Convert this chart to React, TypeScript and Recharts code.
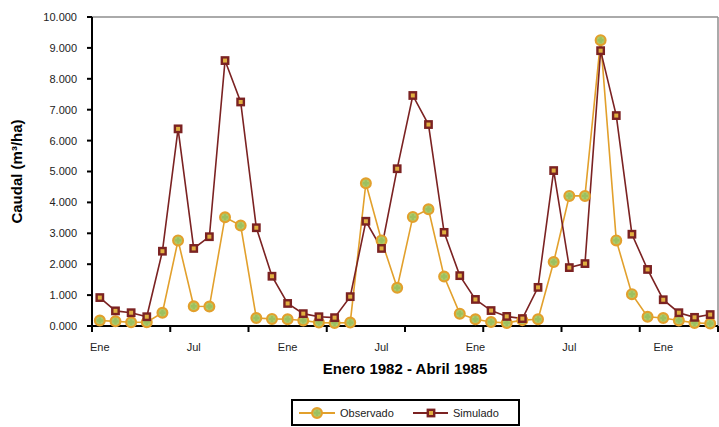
import React from "react";
import {
  LineChart,
  Line,
  XAxis,
  YAxis,
  ReferenceLine,
} from "recharts";

// Enero 1982 - Abril 1985, one value per month (m3/ha)
const MONTHS = ["Ene", "Feb", "Mar", "Abr", "May", "Jun", "Jul", "Ago", "Sep", "Oct", "Nov", "Dic"];

const OBSERVADO = [
  180, 150, 120, 120, 430, 2770, 640, 630, 3520, 3250, 260, 230,
  220, 180, 110, 100, 110, 4620, 2770, 1240, 3530, 3780, 1600, 400,
  220, 130, 100, 190, 220, 2070, 4210, 4210, 9250, 2770, 1030, 300,
  260, 180, 100, 80,
];

const SIMULADO = [
  920, 490, 430, 300, 2420, 6380, 2510, 2890, 8590, 7250, 3180, 1610,
  730, 400, 300, 270, 950, 3390, 2510, 5090, 7460, 6520, 3030, 1630,
  860, 500, 310, 240, 1250, 5030, 1890, 2020, 8910, 6810, 2970, 1830,
  850, 430, 280, 370,
];

const Y_TICKS = [0, 1000, 2000, 3000, 4000, 5000, 6000, 7000, 8000, 9000, 10000];
const MARK_EVERY = 5; // tick marks between categories
const LABEL_EVERY = 6; // month labels

const SERIES = [
  { key: "obs", name: "Observado", color: "#E2A02C" },
  { key: "sim", name: "Simulado", color: "#7B2222" },
];

const FONT = '"Liberation Sans", Arial, Helvetica, sans-serif';

const data = OBSERVADO.map((v, i) => ({
  x: i + 0.5,
  month: MONTHS[i % 12],
  obs: v,
  sim: SIMULADO[i],
}));

const xTicks: number[] = [];
for (let i = 0; i <= data.length; i += MARK_EVERY) xTicks.push(i);
for (let i = 0; i < data.length; i += LABEL_EVERY) xTicks.push(i + 0.5);
xTicks.sort((a, b) => a - b);

const fmtY = (v: number) =>
  `${Math.floor(v / 1000)}.${String(v % 1000).padStart(3, "0")}`;

function XTick(props: any) {
  const { x, y, payload } = props;
  const v = payload.value as number;
  if (Number.isInteger(v)) {
    return <line x1={x} x2={x} y1={y} y2={y + 6} stroke="#000" strokeWidth={2} />;
  }
  return (
    <text x={x} y={y + 25} textAnchor="middle" fontSize={11} fill="#222" fontFamily={FONT}>
      {MONTHS[Math.floor(v) % 12]}
    </text>
  );
}

function ObsDot(props: any) {
  const { cx, cy, index } = props;
  if (cx == null || cy == null) return <g key={`o${index}`} />;
  return (
    <g key={`o${index}`}>
      <circle cx={cx} cy={cy} r={4.9} fill="#AFCB6A" stroke="#E2A02C" strokeWidth={2.2} />
      <path
        d={`M${cx - 1.2},${cy - 3}h2.4v1.8h1.8v2.4h-1.8v1.8h-2.4v-1.8h-1.8v-2.4h1.8z`}
        fill="#9CC060"
      />
    </g>
  );
}

function SimDot(props: any) {
  const { cx, cy, index } = props;
  if (cx == null || cy == null) return <g key={`s${index}`} />;
  return (
    <rect
      key={`s${index}`}
      x={cx - 3.2}
      y={cy - 3.2}
      width={6.4}
      height={6.4}
      fill="#E0B040"
      stroke="#7B2222"
      strokeWidth={2.4}
    />
  );
}

function LegendBox() {
  return (
    <div
      style={{
        position: "absolute",
        left: 291,
        top: 399,
        width: 225,
        height: 23,
        border: "2px solid #000",
        background: "#fff",
      }}
    >
      <svg width={225} height={23}>
        <line x1={6} x2={42} y1={12} y2={12} stroke={SERIES[0].color} strokeWidth={2} />
        <ObsDot cx={24} cy={12} index={0} />
        <text x={47} y={16} fontSize={11} fill="#222" fontFamily={FONT}>
          {SERIES[0].name}
        </text>
        <line x1={120} x2={155} y1={12} y2={12} stroke={SERIES[1].color} strokeWidth={2} />
        <SimDot cx={138} cy={12} index={1} />
        <text x={160} y={16} fontSize={11} fill="#222" fontFamily={FONT}>
          {SERIES[1].name}
        </text>
      </svg>
    </div>
  );
}

export default function App() {
  return (
    <div
      style={{
        position: "absolute",
        left: 0,
        top: 0,
        width: 719,
        height: 427,
        background: "#fff",
        fontFamily: FONT,
      }}
    >
      <LineChart
        width={719}
        height={427}
        data={data}
        margin={{ top: 17, right: 1, left: 0, bottom: 51 }}
      >
        <XAxis
          dataKey="x"
          type="number"
          domain={[0, data.length]}
          ticks={xTicks}
          interval={0}
          tickSize={0}
          tickMargin={0}
          tickLine={false}
          tick={<XTick />}
          height={50}
          axisLine={{ stroke: "#000", strokeWidth: 2 }}
          label={{
            value: "Enero 1982 - Abril 1985",
            position: "insideBottom",
            offset: 2,
            style: { fontSize: 15, fontWeight: "bold", fill: "#000", fontFamily: FONT },
          }}
        />
        <YAxis
          type="number"
          domain={[0, 10000]}
          ticks={Y_TICKS}
          interval={0}
          width={92}
          tickSize={5}
          tickMargin={10}
          tickFormatter={fmtY}
          tick={{ fontSize: 11, fill: "#222", fontFamily: FONT }}
          tickLine={{ stroke: "#000", strokeWidth: 2 }}
          axisLine={{ stroke: "#000", strokeWidth: 2 }}
          label={{
            value: "Caudal (m³/ha)",
            angle: -90,
            position: "insideLeft",
            offset: 17,
            style: {
              textAnchor: "middle",
              fontSize: 15,
              fontWeight: "bold",
              fill: "#000",
              fontFamily: FONT,
            },
          }}
        />
        <ReferenceLine y={10000} stroke="#8E8E8E" strokeWidth={1.5} />
        <ReferenceLine x={data.length} stroke="#8E8E8E" strokeWidth={1.5} />
        <Line
          type="linear"
          dataKey="obs"
          name={SERIES[0].name}
          stroke={SERIES[0].color}
          strokeWidth={1.6}
          dot={(p: any) => <ObsDot {...p} />}
          activeDot={false}
          isAnimationActive={false}
        />
        <Line
          type="linear"
          dataKey="sim"
          name={SERIES[1].name}
          stroke={SERIES[1].color}
          strokeWidth={1.6}
          dot={(p: any) => <SimDot {...p} />}
          activeDot={false}
          isAnimationActive={false}
        />
      </LineChart>
      <LegendBox />
    </div>
  );
}
